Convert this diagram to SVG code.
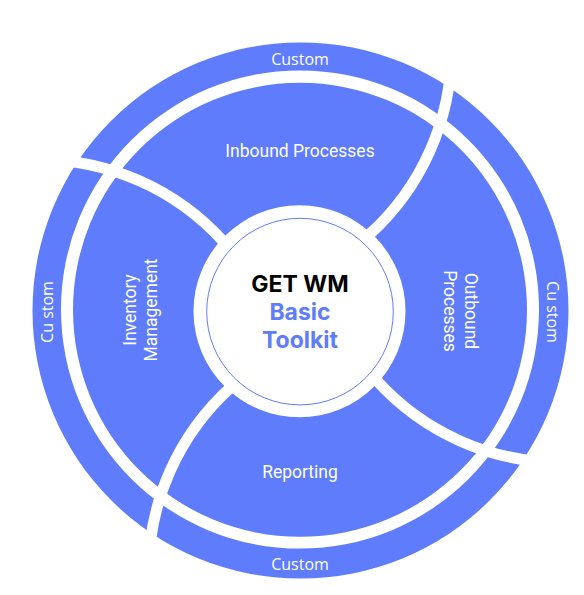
<svg xmlns="http://www.w3.org/2000/svg" xmlns:xlink="http://www.w3.org/1999/xlink" width="584" height="595" viewBox="0 0 584 595">
  <style>
    .seg { fill: #5e7cfb; fill-rule: evenodd; }
    .lbl { fill: #ffffff; font-family: Roboto, "Liberation Sans", sans-serif; font-size: 17.5px; text-anchor: middle; }
    .cus { fill: #ffffff; font-family: "Open Sans", "Liberation Sans", sans-serif; font-size: 16px; text-anchor: middle; }
    .ctr { font-family: Inter, Roboto, "Liberation Sans", sans-serif; font-weight: 700; font-size: 23px; text-anchor: middle; }
    .div { fill: none; stroke: #ffffff; stroke-width: 11; }
  </style>
  <defs>
    <path id="outerRing" class="seg" d="M32.5 310.5 a268 268 0 1 0 536 0 a268 268 0 1 0 -536 0 Z M61 309.5 a239 239 0 1 0 478 0 a239 239 0 1 0 -478 0 Z"/>
    <path id="innerRing" class="seg" d="M73 309.8 a227 227 0 1 0 454 0 a227 227 0 1 0 -454 0 Z M193.5 311.3 a106 106 0 1 0 212 0 a106 106 0 1 0 -212 0 Z"/>
    <clipPath id="cTop"><path transform="translate(300 311)" d="M0 0 L-67.6 -59 A249.5 249.5 0 0 0 -261.5 -151.5 A302.2 302.2 0 0 1 151.5 -261.5 A249.5 249.5 0 0 1 59 -67.6 Z"/></clipPath>
    <clipPath id="cRight"><path transform="translate(300 311) rotate(90)" d="M0 0 L-67.6 -59 A249.5 249.5 0 0 0 -261.5 -151.5 A302.2 302.2 0 0 1 151.5 -261.5 A249.5 249.5 0 0 1 59 -67.6 Z"/></clipPath>
    <clipPath id="cBottom"><path transform="translate(300 311) rotate(180)" d="M0 0 L-67.6 -59 A249.5 249.5 0 0 0 -261.5 -151.5 A302.2 302.2 0 0 1 151.5 -261.5 A249.5 249.5 0 0 1 59 -67.6 Z"/></clipPath>
    <clipPath id="cLeft"><path transform="translate(300 311) rotate(270)" d="M0 0 L-67.6 -59 A249.5 249.5 0 0 0 -261.5 -151.5 A302.2 302.2 0 0 1 151.5 -261.5 A249.5 249.5 0 0 1 59 -67.6 Z"/></clipPath>
    <path id="divider" class="div" d="M-76.1 -68.9 A249.5 249.5 0 0 0 -261.5 -151.5"/>
  </defs>

  <g id="custom-top">
    <use href="#outerRing" clip-path="url(#cTop)"/>
    <text class="cus" x="300" y="65">Custom</text>
  </g>
  <g id="custom-right">
    <use href="#outerRing" clip-path="url(#cRight)"/>
    <text class="cus" transform="translate(547 312) rotate(90)" x="0" y="0">Cu stom</text>
  </g>
  <g id="custom-bottom">
    <use href="#outerRing" clip-path="url(#cBottom)"/>
    <text class="cus" x="300" y="570">Custom</text>
  </g>
  <g id="custom-left">
    <use href="#outerRing" clip-path="url(#cLeft)"/>
    <text class="cus" transform="translate(53 312) rotate(-90)" x="0" y="0">Cu stom</text>
  </g>

  <g id="inbound">
    <use href="#innerRing" clip-path="url(#cTop)"/>
    <text class="lbl" x="300" y="157">Inbound Processes</text>
  </g>
  <g id="outbound">
    <use href="#innerRing" clip-path="url(#cRight)"/>
    <text class="lbl" transform="translate(465 311) rotate(90)"><tspan x="0" y="0">Outbound</tspan><tspan x="0" y="21">Processes</tspan></text>
  </g>
  <g id="reporting">
    <use href="#innerRing" clip-path="url(#cBottom)"/>
    <text class="lbl" x="300" y="478">Reporting</text>
  </g>
  <g id="inventory">
    <use href="#innerRing" clip-path="url(#cLeft)"/>
    <text class="lbl" transform="translate(136 310) rotate(-90)"><tspan x="0" y="0">Inventory</tspan><tspan x="0" y="21">Management</tspan></text>
  </g>

  <g id="connectors">
    <use href="#divider" transform="translate(300 311)"/>
    <use href="#divider" transform="translate(300 311) rotate(90)"/>
    <use href="#divider" transform="translate(300 311) rotate(180)"/>
    <use href="#divider" transform="translate(300 311) rotate(270)"/>
  </g>

  <g id="center">
    <circle cx="300" cy="311.6" r="93.3" fill="#ffffff" stroke="#5e7cfb" stroke-width="1"/>
    <text class="ctr" x="300" y="292" fill="#000000">GET WM</text>
    <text class="ctr" x="300" y="320" fill="#5e7cfb">Basic</text>
    <text class="ctr" x="300" y="348" fill="#5e7cfb">Toolkit</text>
  </g>
</svg>
